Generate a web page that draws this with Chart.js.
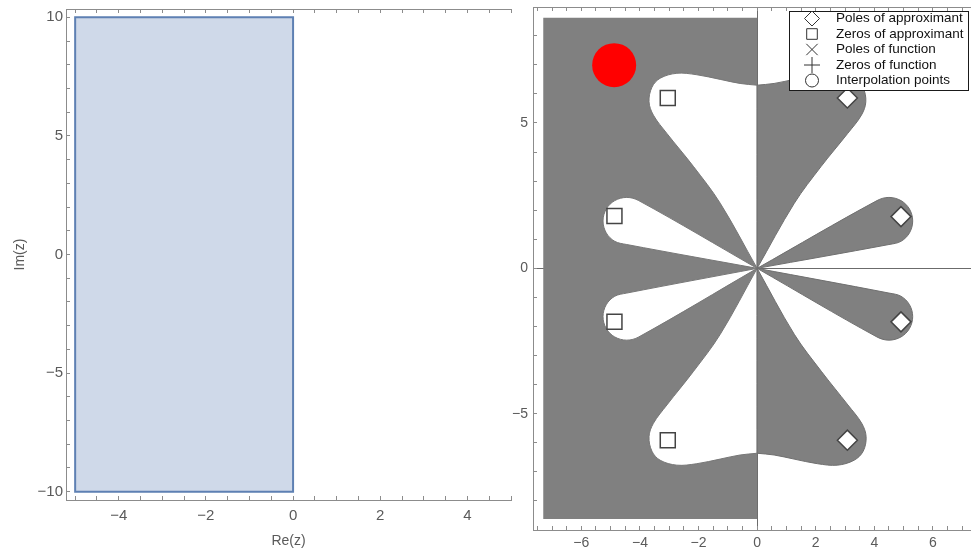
<!DOCTYPE html>
<html>
<head>
<meta charset="utf-8">
<script src="https://cdn.jsdelivr.net/npm/chart.js@4.4.1/dist/chart.umd.min.js"></script>
<style>
  html, body { margin: 0; padding: 0; background: #fff; overflow: hidden; }
  canvas { position: absolute; top: 0; }
</style>
</head>
<body>
<canvas id="left" width="520" height="550" style="left:0"></canvas>
<canvas id="right" width="476" height="550" style="left:495px"></canvas>
<script>
"use strict";
const FONT = '"Liberation Sans", Arial, sans-serif';

// Left panel: the region Re(z) in [-5, 0], Im(z) in [-10, 10]
const regionRe = [-5, 0, 0, -5, -5];
const regionIm = [-10, -10, 10, 10, -10];

// Right panel: shaded half plane and the petals, as [Re, Im] outline points
const shadeRe = [-7.3, 0, 0, -7.3, -7.3];
const shadeIm = [-8.62, -8.62, 8.62, 8.62, -8.62];

const petalLeftTop = [[0, 0], [0, 6.30], [0, 6.30], [-0.58, 6.36], [-1.26, 6.50], [-2.06, 6.66], [-2.74, 6.71],
  [-3.31, 6.54], [-3.59, 6.23], [-3.69, 5.73], [-3.54, 5.27], [-3.08, 4.64], [-2.17, 3.50], [-1.26, 2.24], [0, 0]];
const petalLeftUpper = [[0, 0], [-4.04, 2.33], [-4.45, 2.44], [-4.86, 2.33], [-5.15, 2.04], [-5.26, 1.63],
  [-5.15, 1.22], [-4.86, 0.93], [-4.45, 0.82], [0, 0]];
const petalLeftLower = [[0, 0], [-4.04, -2.36], [-4.45, -2.47], [-4.86, -2.36], [-5.15, -2.07], [-5.26, -1.66],
  [-5.15, -1.25], [-4.86, -0.96], [-4.45, -0.85], [0, 0]];
const petalLeftBottom = [[0, 0], [0, -6.36], [0, -6.36], [-0.58, -6.42], [-1.26, -6.56], [-2.06, -6.72], [-2.74, -6.77],
  [-3.31, -6.60], [-3.59, -6.29], [-3.69, -5.79], [-3.54, -5.33], [-3.08, -4.70], [-2.17, -3.54], [-1.26, -2.27], [0, 0]];

const petalRightTop = [[0, 0], [0, 6.30], [0, 6.30], [0.58, 6.36], [1.26, 6.50], [2.06, 6.66], [2.74, 6.71],
  [3.31, 6.54], [3.61, 6.23], [3.71, 5.73], [3.56, 5.27], [3.09, 4.64], [2.18, 3.50], [1.27, 2.24], [0, 0]];
const petalRightUpper = [[0, 0], [4.09, 2.33], [4.50, 2.44], [4.91, 2.33], [5.20, 2.04], [5.31, 1.63],
  [5.20, 1.22], [4.91, 0.93], [4.50, 0.82], [0, 0]];
const petalRightLower = [[0, 0], [4.09, -2.36], [4.50, -2.47], [4.91, -2.36], [5.20, -2.07], [5.31, -1.66],
  [5.20, -1.25], [4.91, -0.96], [4.50, -0.85], [0, 0]];
const petalRightBottom = [[0, 0], [0, -6.36], [0, -6.36], [0.58, -6.42], [1.26, -6.56], [2.06, -6.72], [2.74, -6.77],
  [3.31, -6.60], [3.62, -6.29], [3.72, -5.79], [3.57, -5.33], [3.10, -4.70], [2.19, -3.54], [1.27, -2.27], [0, 0]];

const zerosRe = [-3.05, -4.87, -4.87, -3.05];
const zerosIm = [5.86, 1.80, -1.84, -5.91];
const polesRe = [3.08, 4.91, 4.91, 3.08];
const polesIm = [5.86, 1.78, -1.84, -5.91];
const interpRe = [-4.88];
const interpIm = [6.99];

const legendLabels = ["Poles of approximant", "Zeros of approximant", "Poles of function",
  "Zeros of function", "Interpolation points"];
const legendStyles = ["rectRot", "rect", "crossRot", "cross", "circle"];
const legendSizes = [7.5, 7.5, 8, 8, 6.5];

const xy = (xs, ys) => xs.map((x, i) => ({ x: x, y: ys[i] }));
const pts = arr => arr.map(p => ({ x: p[0], y: p[1] }));
const minus = v => String(v).replace("-", "\u2212");
const every = n => v => (Math.abs(v / n - Math.round(v / n)) < 1e-6 ? minus(Math.round(v)) : "");

function outline(data, color, order, edge, tension) {
  return {
    data: data, showLine: true, fill: "shape", backgroundColor: color,
    borderColor: edge || color, borderWidth: edge ? 1 : 0, pointRadius: 0,
    tension: tension === undefined ? 0.35 : tension, order: order
  };
}

// Mathematica style frame axis: inward ticks, sparse labels
function frameAxis(pos, min, max, step, labelEvery, pad, size, fit, extra) {
  return Object.assign({
    type: "linear", position: pos, min: min, max: max,
    axis: (pos === "left" || pos === "right") ? "y" : "x",
    ticks: {
      stepSize: step, autoSkip: false, includeBounds: false, maxRotation: 0, padding: pad,
      color: "#5a5a5a", font: { family: FONT, size: size }, callback: every(labelEvery)
    },
    grid: { drawOnChartArea: false, tickLength: -4, tickColor: "#8c8c8c", tickWidth: 1 },
    border: { color: "#8c8c8c", width: 1 },
    afterFit: s => {
      if (s.isHorizontal()) { s.height = fit; } else { s.width = fit; }
      s.paddingTop = 0; s.paddingBottom = 0; s.paddingLeft = 0; s.paddingRight = 0;
    }
  }, extra || {});
}

const common = {
  responsive: false, animation: false, events: [],
  plugins: { legend: { display: false }, tooltip: { enabled: false } }
};

// ---- left chart
new Chart(document.getElementById("left"), {
  type: "line",
  data: {
    datasets: [{
      data: xy(regionRe, regionIm), showLine: true, fill: "shape",
      backgroundColor: "#cfd9e9", borderColor: "#5e80b3", borderWidth: 2,
      borderCapStyle: "square", pointRadius: 0, tension: 0
    }]
  },
  options: Object.assign({}, common, {
    layout: { autoPadding: false, padding: { top: 9, right: 9, left: 0, bottom: 0 } },
    scales: {
      x: frameAxis("bottom", -5.21, 5.0, 0.5, 2, 11, 15, 50, {
        title: { display: true, text: "Re(z)", color: "#5a5a5a", font: { family: FONT, size: 14 }, padding: { top: 0, bottom: 0 } }
      }),
      xTop: frameAxis("top", -5.21, 5.0, 0.5, 2, 0, 15, 0, {}),
      y: frameAxis("left", -10.35, 10.35, 1, 5, 7, 15, 66, {
        title: { display: true, text: "Im(z)", color: "#5a5a5a", font: { family: FONT, size: 14 }, padding: { top: 12, bottom: 0 } }
      })
    }
  })
});
// no labels on top frame
Chart.getChart("left").options.scales.xTop.ticks.display = false;
Chart.getChart("left").update("none");

// ---- right chart
const boxLegend = {
  id: "boxLegend",
  afterDraw(chart) {
    const ctx = chart.ctx;
    ctx.save();
    ctx.fillStyle = "#ffffff";
    ctx.fillRect(294.5, 11.5, 179, 79);
    ctx.strokeStyle = "#1a1a1a";
    ctx.lineWidth = 1;
    ctx.strokeRect(294.5, 11.5, 179, 79);
    ctx.font = "13.5px " + FONT;
    ctx.textBaseline = "middle";
    legendLabels.forEach((t, i) => {
      const cy = 18.5 + i * 15.5;
      ctx.fillStyle = "#ffffff";
      ctx.strokeStyle = "#333333";
      ctx.lineWidth = 1;
      Chart.helpers.drawPoint(ctx, { pointStyle: legendStyles[i], radius: legendSizes[i], rotation: 0, borderWidth: 1 }, 317, cy);
      ctx.fillStyle = "#111111";
      ctx.fillText(t, 341, cy);
    });
    ctx.restore();
  }
};

const axisAt0 = c => (c.tick && c.tick.value === 0 ? "#6b6b6b" : "rgba(0,0,0,0)");

new Chart(document.getElementById("right"), {
  type: "line",
  data: {
    datasets: [
      outline(xy(shadeRe, shadeIm), "#808080", 10, null, 0),
      outline(pts(petalLeftTop), "#ffffff", 9, "#777777"),
      outline(pts(petalLeftUpper), "#ffffff", 9, "#777777"),
      outline(pts(petalLeftLower), "#ffffff", 9, "#777777"),
      outline(pts(petalLeftBottom), "#ffffff", 9, "#777777"),
      outline(pts(petalRightTop), "#808080", 8, "#6f6f6f"),
      outline(pts(petalRightUpper), "#808080", 8, "#6f6f6f"),
      outline(pts(petalRightLower), "#808080", 8, "#6f6f6f"),
      outline(pts(petalRightBottom), "#808080", 8, "#6f6f6f"),
      {
        label: "Interpolation points", data: xy(interpRe, interpIm), showLine: false,
        pointStyle: "circle", pointRadius: 22, pointBackgroundColor: "#ff0000",
        pointBorderColor: "#ff0000", pointBorderWidth: 0, order: 2
      },
      {
        label: "Zeros of approximant", data: xy(zerosRe, zerosIm), showLine: false,
        pointStyle: "rect", pointRadius: 10.6, pointBackgroundColor: "#ffffff",
        pointBorderColor: "#444444", pointBorderWidth: 1.5, order: 1
      },
      {
        label: "Poles of approximant", data: xy(polesRe, polesIm), showLine: false,
        pointStyle: "rectRot", pointRadius: 10, pointBackgroundColor: "#ffffff",
        pointBorderColor: "#444444", pointBorderWidth: 1.5, order: 1
      }
    ]
  },
  options: Object.assign({}, common, {
    layout: { autoPadding: false, padding: { top: 7, right: 0, left: 0, bottom: 0 } },
    scales: {
      x: frameAxis("bottom", -7.65, 7.3, 0.5, 2, 9, 14, 20, { z: 1 }),
      xTop: frameAxis("top", -7.65, 7.3, 0.5, 2, 0, 14, 0, {}),
      y: frameAxis("left", -9.0, 8.99, 1, 5, 9, 14, 38, { z: 1 })
    }
  }),
  plugins: [boxLegend]
});
const rc = Chart.getChart("right");
rc.options.scales.xTop.ticks.display = false;
rc.options.scales.x.grid.drawOnChartArea = true;
rc.options.scales.x.grid.color = axisAt0;
rc.options.scales.y.grid.drawOnChartArea = true;
rc.options.scales.y.grid.color = axisAt0;
rc.update("none");
</script>
</body>
</html>
